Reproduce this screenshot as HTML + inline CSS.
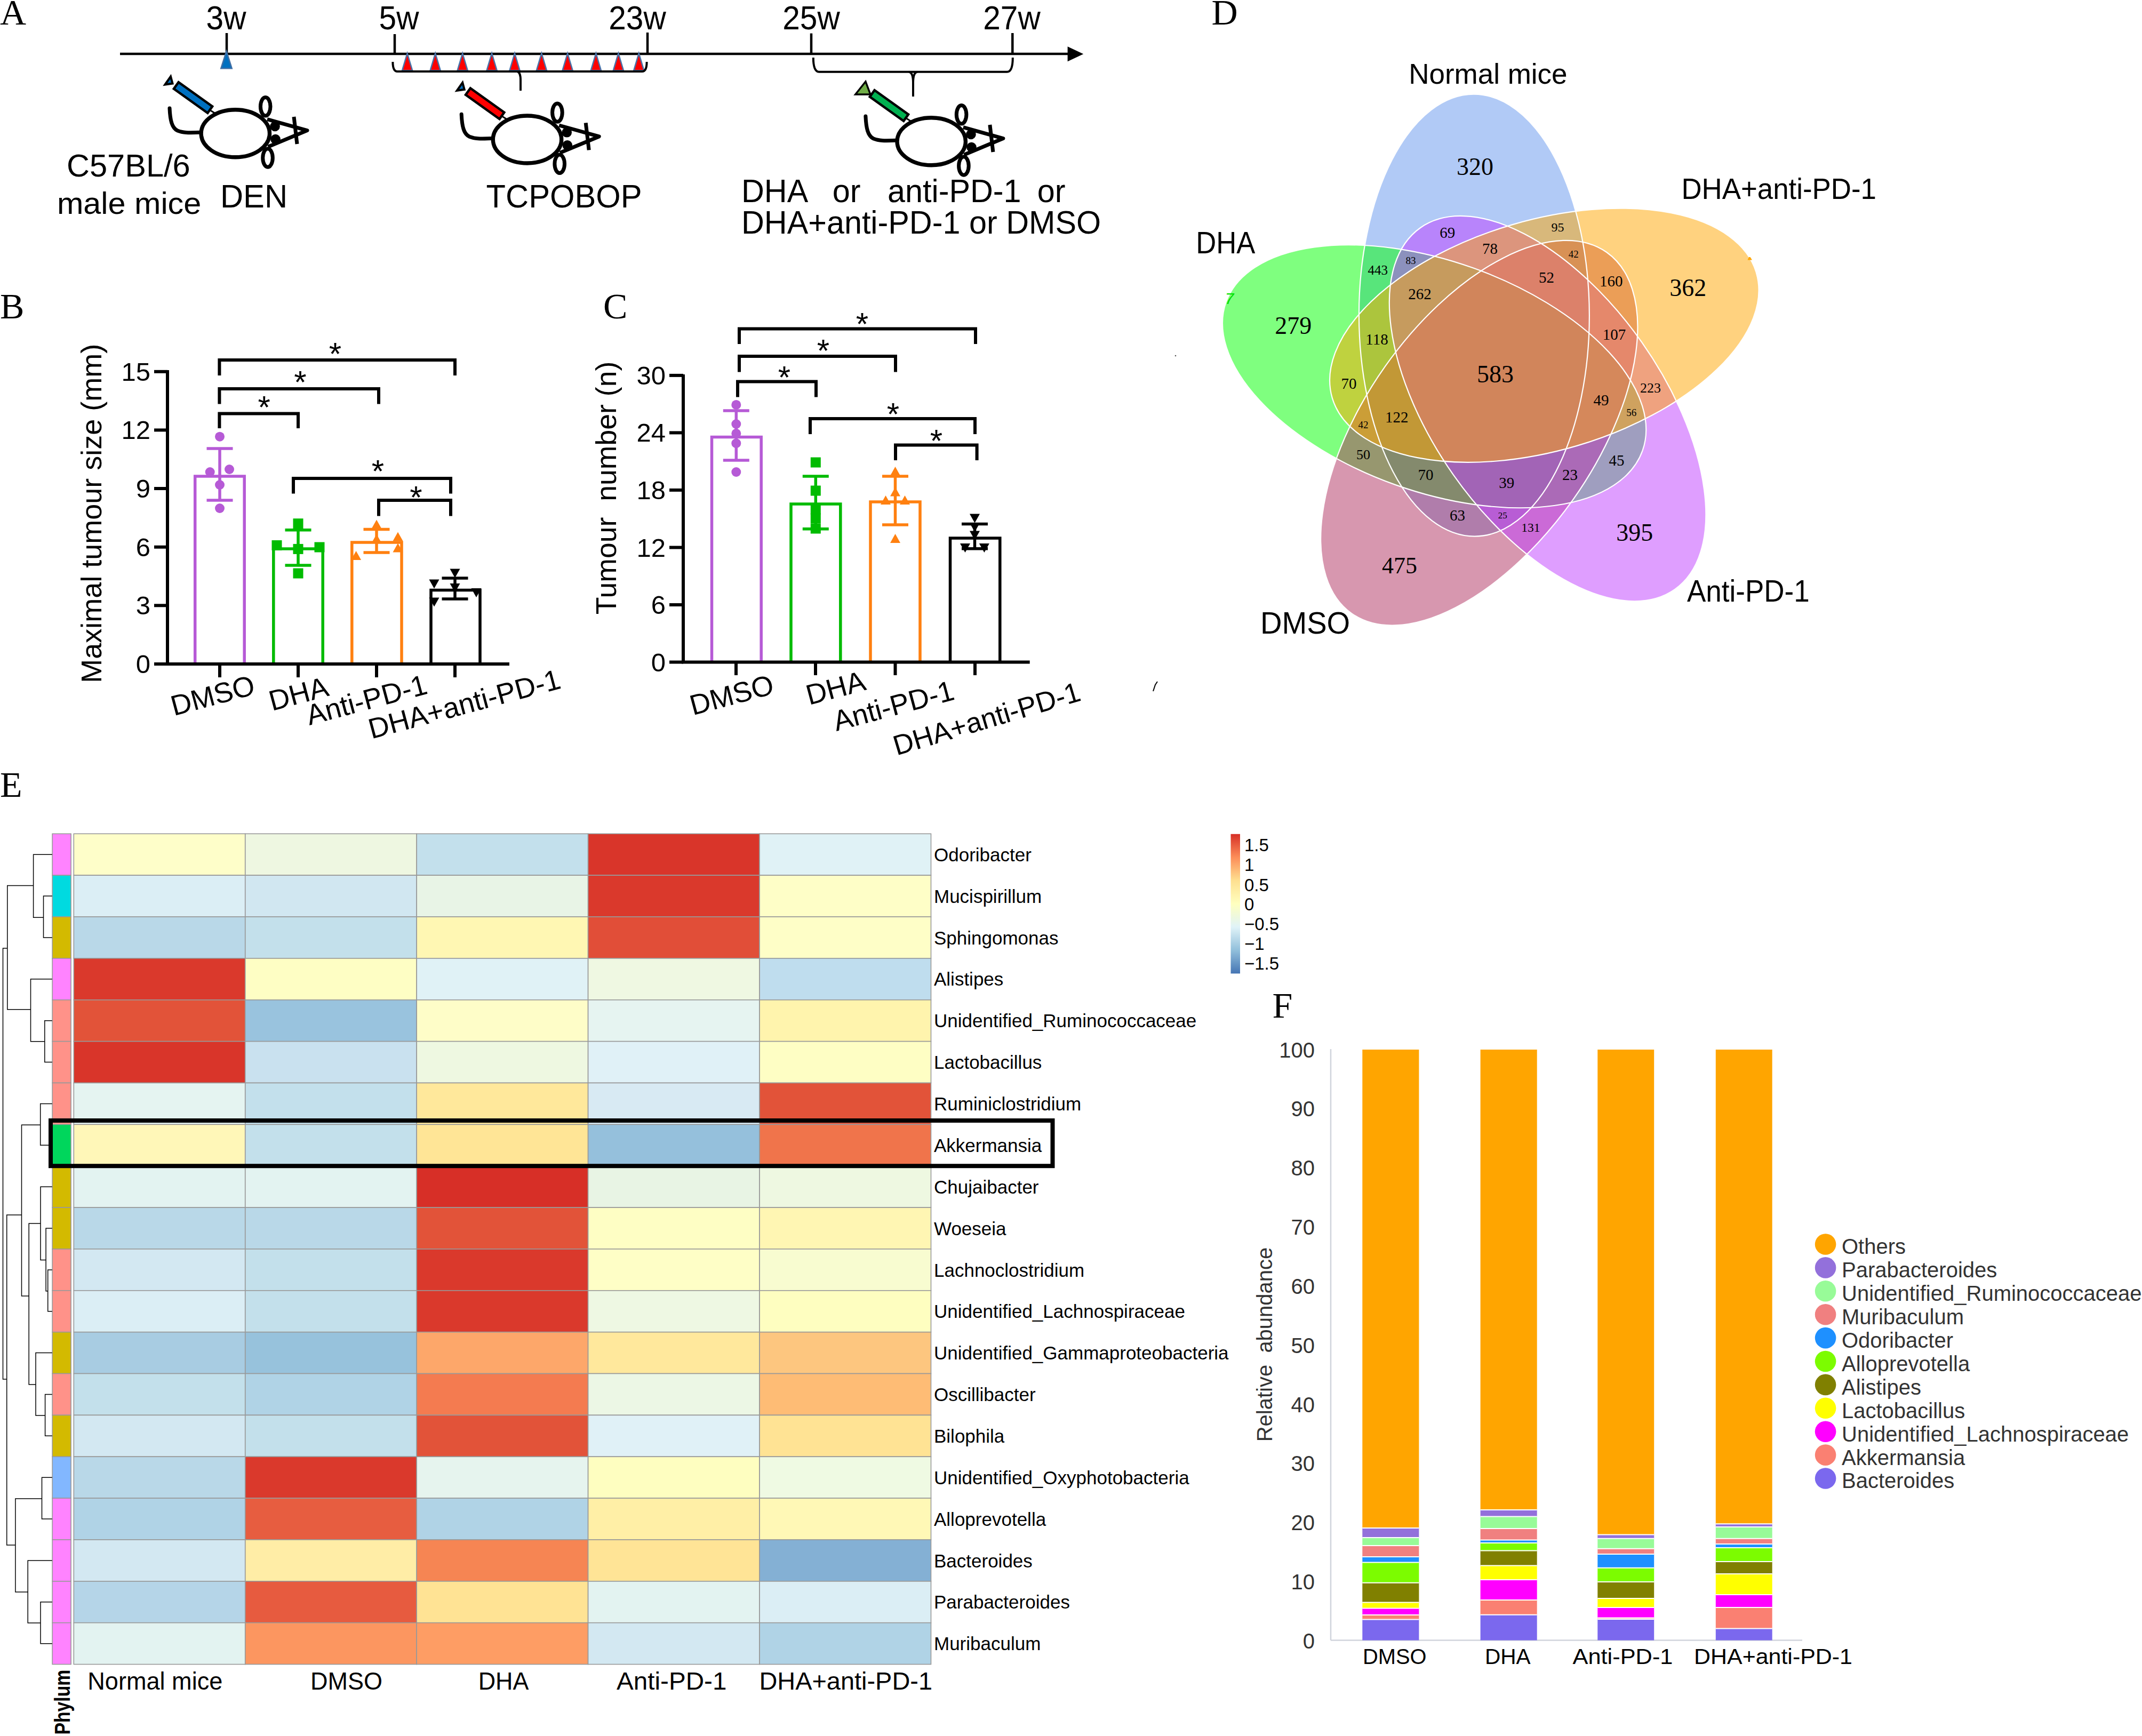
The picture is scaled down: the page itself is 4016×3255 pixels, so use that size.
<!DOCTYPE html>
<html><head><meta charset="utf-8"><title>Figure</title>
<style>html,body{margin:0;padding:0;background:#fff;} svg{display:block;}</style></head>
<body><svg width="4016" height="3255" viewBox="0 0 4016 3255">
<rect width="4016" height="3255" fill="#fff"/>
<text x="0" y="45.9" font-family="Liberation Serif, serif" font-size="68">A</text>
<line x1="225" y1="101" x2="2004" y2="101" stroke="#000" stroke-width="4.5"/>
<polygon points="2001.6,87.2 2031.3,101.2 2001.6,115.2" fill="#000"/>
<line x1="425" y1="62" x2="425" y2="101" stroke="#000" stroke-width="4.5"/>
<line x1="740" y1="64" x2="740" y2="101" stroke="#000" stroke-width="4.5"/>
<line x1="1214" y1="61" x2="1214" y2="101" stroke="#000" stroke-width="4.5"/>
<line x1="1521" y1="62.6" x2="1521" y2="101" stroke="#000" stroke-width="4.5"/>
<line x1="1898.3" y1="62" x2="1898.3" y2="101" stroke="#000" stroke-width="4.5"/>
<text transform="translate(424,54.7) scale(1.01,1.07)" font-family="Liberation Sans, sans-serif" font-size="58" text-anchor="middle">3w</text>
<text transform="translate(748,54.7) scale(1.01,1.07)" font-family="Liberation Sans, sans-serif" font-size="58" text-anchor="middle">5w</text>
<text transform="translate(1195,54.7) scale(1.01,1.07)" font-family="Liberation Sans, sans-serif" font-size="58" text-anchor="middle">23w</text>
<text transform="translate(1521,54.7) scale(1.01,1.07)" font-family="Liberation Sans, sans-serif" font-size="58" text-anchor="middle">25w</text>
<text transform="translate(1897,54.7) scale(1.01,1.07)" font-family="Liberation Sans, sans-serif" font-size="58" text-anchor="middle">27w</text>
<polygon points="424.6,96 434.7,128.3 414.3,128.3" fill="#0070c0" stroke="#3f6fa6" stroke-width="2.5" stroke-linejoin="miter"/>
<polygon points="763.6,100 773.2,132.3 754.0,132.3" fill="#ff0000" stroke="#4a72a8" stroke-width="2.5"/>
<polygon points="816.2,100 825.8000000000001,132.3 806.6,132.3" fill="#ff0000" stroke="#4a72a8" stroke-width="2.5"/>
<polygon points="867.2,100 876.8000000000001,132.3 857.6,132.3" fill="#ff0000" stroke="#4a72a8" stroke-width="2.5"/>
<polygon points="922.1,100 931.7,132.3 912.5,132.3" fill="#ff0000" stroke="#4a72a8" stroke-width="2.5"/>
<polygon points="965,100 974.6,132.3 955.4,132.3" fill="#ff0000" stroke="#4a72a8" stroke-width="2.5"/>
<polygon points="1015.4,100 1025.0,132.3 1005.8,132.3" fill="#ff0000" stroke="#4a72a8" stroke-width="2.5"/>
<polygon points="1064.1,100 1073.6999999999998,132.3 1054.5,132.3" fill="#ff0000" stroke="#4a72a8" stroke-width="2.5"/>
<polygon points="1117.4,100 1127.0,132.3 1107.8000000000002,132.3" fill="#ff0000" stroke="#4a72a8" stroke-width="2.5"/>
<polygon points="1159.4,100 1169.0,132.3 1149.8000000000002,132.3" fill="#ff0000" stroke="#4a72a8" stroke-width="2.5"/>
<polygon points="1197.8,100 1207.3999999999999,132.3 1188.2,132.3" fill="#ff0000" stroke="#4a72a8" stroke-width="2.5"/>
<path d="M736.4,116 Q736.4,134 745,134 L1204,134 Q1212.6,134 1212.6,116" fill="none" stroke="#000" stroke-width="4"/>
<path d="M970,134 Q976,136 976,150 L976,170" fill="none" stroke="#000" stroke-width="4"/>
<path d="M1524.8,108 Q1524.8,134.8 1536,134.8 L1888,134.8 Q1898.8,134.8 1898.8,108" fill="none" stroke="#000" stroke-width="4"/>
<path d="M1704,134.8 Q1712,136 1712,155 L1712,181 M1720,134.8 Q1712,136 1712,155" fill="none" stroke="#000" stroke-width="4"/>
<g transform="translate(0,0)"><path d="M318,203 C319,225 322,240 333,245 C345,250 360,248.5 374,248.3" fill="none" stroke="#000" stroke-width="7" stroke-linecap="round"/><ellipse cx="441.3" cy="250.2" rx="64.2" ry="44.5" fill="#fff" stroke="#000" stroke-width="7.4"/><ellipse cx="497.7" cy="199.8" rx="9.3" ry="17.2" fill="none" stroke="#000" stroke-width="7"/><ellipse cx="502" cy="296" rx="9.3" ry="17.2" fill="none" stroke="#000" stroke-width="7"/><path d="M501,223.7 L576,244.6 L502.6,275.2" fill="none" stroke="#000" stroke-width="7" stroke-linejoin="round"/><line x1="551" y1="219" x2="557" y2="270" stroke="#000" stroke-width="7"/><circle cx="515.5" cy="237" r="9.3" fill="#000"/><circle cx="516.5" cy="261" r="9.3" fill="#000"/><line x1="393" y1="206" x2="404" y2="213" stroke="#000" stroke-width="3"/><g transform="translate(362,183) rotate(35.6)"><rect x="-39" y="-7.6" width="78" height="15.2" fill="#0070c0" stroke="#000" stroke-width="4.5"/></g><polygon points="309.5,158.5 320,143.5 323.5,156.5" fill="#0070c0" stroke="#000" stroke-width="4"/></g>
<g transform="translate(547.2,11.3)"><path d="M318,203 C319,225 322,240 333,245 C345,250 360,248.5 374,248.3" fill="none" stroke="#000" stroke-width="7" stroke-linecap="round"/><ellipse cx="441.3" cy="250.2" rx="64.2" ry="44.5" fill="#fff" stroke="#000" stroke-width="7.4"/><ellipse cx="497.7" cy="199.8" rx="9.3" ry="17.2" fill="none" stroke="#000" stroke-width="7"/><ellipse cx="502" cy="296" rx="9.3" ry="17.2" fill="none" stroke="#000" stroke-width="7"/><path d="M501,223.7 L576,244.6 L502.6,275.2" fill="none" stroke="#000" stroke-width="7" stroke-linejoin="round"/><line x1="551" y1="219" x2="557" y2="270" stroke="#000" stroke-width="7"/><circle cx="515.5" cy="237" r="9.3" fill="#000"/><circle cx="516.5" cy="261" r="9.3" fill="#000"/><line x1="393" y1="206" x2="404" y2="213" stroke="#000" stroke-width="3"/><g transform="translate(362,183) rotate(35.6)"><rect x="-39" y="-7.6" width="78" height="15.2" fill="#ff0000" stroke="#000" stroke-width="4.5"/></g><polygon points="309.5,158.5 320,143.5 323.5,156.5" fill="#0070c0" stroke="#000" stroke-width="4"/></g>
<g transform="translate(1304.9,15)"><path d="M318,203 C319,225 322,240 333,245 C345,250 360,248.5 374,248.3" fill="none" stroke="#000" stroke-width="7" stroke-linecap="round"/><ellipse cx="441.3" cy="250.2" rx="64.2" ry="44.5" fill="#fff" stroke="#000" stroke-width="7.4"/><ellipse cx="497.7" cy="199.8" rx="9.3" ry="17.2" fill="none" stroke="#000" stroke-width="7"/><ellipse cx="502" cy="296" rx="9.3" ry="17.2" fill="none" stroke="#000" stroke-width="7"/><path d="M501,223.7 L576,244.6 L502.6,275.2" fill="none" stroke="#000" stroke-width="7" stroke-linejoin="round"/><line x1="551" y1="219" x2="557" y2="270" stroke="#000" stroke-width="7"/><circle cx="515.5" cy="237" r="9.3" fill="#000"/><circle cx="516.5" cy="261" r="9.3" fill="#000"/><line x1="393" y1="206" x2="404" y2="213" stroke="#000" stroke-width="3"/><g transform="translate(362,183) rotate(35.6)"><rect x="-39" y="-7.6" width="78" height="15.2" fill="#00b050" stroke="#000" stroke-width="4.5"/></g><polygon points="298.9,162 318,138 327,162" fill="#70ad47" stroke="#000" stroke-width="3.5"/></g>
<text transform="translate(240.8,331) scale(1.027,1.034)" font-family="Liberation Sans, sans-serif" font-size="58" text-anchor="middle">C57BL/6</text>
<text transform="translate(242.1,400.5) scale(1.023,1.0)" font-family="Liberation Sans, sans-serif" font-size="58" text-anchor="middle">male mice</text>
<text transform="translate(476,389.2) scale(1.03,1.06)" font-family="Liberation Sans, sans-serif" font-size="58" text-anchor="middle">DEN</text>
<text transform="translate(1057.6,389.2) scale(1.03,1.06)" font-family="Liberation Sans, sans-serif" font-size="58" text-anchor="middle">TCPOBOP</text>
<text transform="translate(1390,378.8) scale(1.023,1.06)" font-family="Liberation Sans, sans-serif" font-size="58">DHA</text>
<text transform="translate(1560.7,378.8) scale(1.023,1.06)" font-family="Liberation Sans, sans-serif" font-size="58">or</text>
<text transform="translate(1664,378.8) scale(1.023,1.06)" font-family="Liberation Sans, sans-serif" font-size="58">anti-PD-1</text>
<text transform="translate(1944.7,378.8) scale(1.023,1.06)" font-family="Liberation Sans, sans-serif" font-size="58">or</text>
<text transform="translate(1390,437.6) scale(1.023,1.06)" font-family="Liberation Sans, sans-serif" font-size="58">DHA+anti-PD-1 or DMSO</text>
<text x="0" y="596.9" font-family="Liberation Serif, serif" font-size="68">B</text>
<path d="M365.7,1245 L365.7,893 L458.2,893 L458.2,1245" fill="none" stroke="#b65ad6" stroke-width="5.5"/>
<path d="M512.8,1245 L512.8,1029 L605.2,1029 L605.2,1245" fill="none" stroke="#00bb00" stroke-width="5.5"/>
<path d="M659.8,1245 L659.8,1017 L753,1017 L753,1245" fill="none" stroke="#ff8010" stroke-width="5.5"/>
<path d="M808,1245 L808,1106.5 L900,1106.5 L900,1245" fill="none" stroke="#000" stroke-width="5.5"/>
<line x1="412" y1="841" x2="412" y2="938" stroke="#b65ad6" stroke-width="5.5"/><line x1="387.5" y1="841" x2="436.5" y2="841" stroke="#b65ad6" stroke-width="5.5"/><line x1="387.5" y1="938" x2="436.5" y2="938" stroke="#b65ad6" stroke-width="5.5"/>
<line x1="559" y1="993.7" x2="559" y2="1060" stroke="#00bb00" stroke-width="5.5"/><line x1="534.5" y1="993.7" x2="583.5" y2="993.7" stroke="#00bb00" stroke-width="5.5"/><line x1="534.5" y1="1060" x2="583.5" y2="1060" stroke="#00bb00" stroke-width="5.5"/>
<line x1="706" y1="992.6" x2="706" y2="1036" stroke="#ff8010" stroke-width="5.5"/><line x1="681.5" y1="992.6" x2="730.5" y2="992.6" stroke="#ff8010" stroke-width="5.5"/><line x1="681.5" y1="1036" x2="730.5" y2="1036" stroke="#ff8010" stroke-width="5.5"/>
<line x1="853" y1="1084" x2="853" y2="1123" stroke="#000" stroke-width="5.5"/><line x1="828.5" y1="1084" x2="877.5" y2="1084" stroke="#000" stroke-width="5.5"/><line x1="828.5" y1="1123" x2="877.5" y2="1123" stroke="#000" stroke-width="5.5"/>
<circle cx="412" cy="818.7" r="9" fill="#b65ad6"/>
<circle cx="393.7" cy="885" r="9" fill="#b65ad6"/>
<circle cx="430" cy="880" r="9" fill="#b65ad6"/>
<circle cx="412" cy="909" r="9" fill="#b65ad6"/>
<circle cx="412" cy="953" r="9" fill="#b65ad6"/>
<rect x="549.5" y="972.2" width="19" height="19" fill="#00bb00"/>
<rect x="509.5" y="1013.0" width="19" height="19" fill="#00bb00"/>
<rect x="549.5" y="1019.9000000000001" width="19" height="19" fill="#00bb00"/>
<rect x="589.5" y="1016.5" width="19" height="19" fill="#00bb00"/>
<rect x="549.5" y="1065.5" width="19" height="19" fill="#00bb00"/>
<polygon points="706,974.5 715.5,991.5 696.5,991.5" fill="#ff8010"/>
<polygon points="746,997.5 755.5,1014.5 736.5,1014.5" fill="#ff8010"/>
<polygon points="706,1001.5 715.5,1018.5 696.5,1018.5" fill="#ff8010"/>
<polygon points="746,1018.5 755.5,1035.5 736.5,1035.5" fill="#ff8010"/>
<polygon points="667.6,1033.0 677.1,1050.0 658.1,1050.0" fill="#ff8010"/>
<polygon points="853,1083.5 862.5,1066.5 843.5,1066.5" fill="#000"/>
<polygon points="814,1103.5 823.5,1086.5 804.5,1086.5" fill="#000"/>
<polygon points="853,1111.0 862.5,1094.0 843.5,1094.0" fill="#000"/>
<polygon points="893,1120.0 902.5,1103.0 883.5,1103.0" fill="#000"/>
<polygon points="814,1137.5 823.5,1120.5 804.5,1120.5" fill="#000"/>
<path d="M314,694 L314,1245 L955,1245" fill="none" stroke="#000" stroke-width="6"/>
<line x1="289" y1="1245.0" x2="314" y2="1245.0" stroke="#000" stroke-width="6"/>
<text x="282" y="1262.0" font-family="Liberation Sans, sans-serif" font-size="49" text-anchor="end">0</text>
<line x1="289" y1="1135.3" x2="314" y2="1135.3" stroke="#000" stroke-width="6"/>
<text x="282" y="1152.3" font-family="Liberation Sans, sans-serif" font-size="49" text-anchor="end">3</text>
<line x1="289" y1="1025.7" x2="314" y2="1025.7" stroke="#000" stroke-width="6"/>
<text x="282" y="1042.7" font-family="Liberation Sans, sans-serif" font-size="49" text-anchor="end">6</text>
<line x1="289" y1="916.0" x2="314" y2="916.0" stroke="#000" stroke-width="6"/>
<text x="282" y="933.0" font-family="Liberation Sans, sans-serif" font-size="49" text-anchor="end">9</text>
<line x1="289" y1="806.4" x2="314" y2="806.4" stroke="#000" stroke-width="6"/>
<text x="282" y="823.4" font-family="Liberation Sans, sans-serif" font-size="49" text-anchor="end">12</text>
<line x1="289" y1="696.8" x2="314" y2="696.8" stroke="#000" stroke-width="6"/>
<text x="282" y="713.8" font-family="Liberation Sans, sans-serif" font-size="49" text-anchor="end">15</text>
<line x1="412" y1="1245" x2="412" y2="1270" stroke="#000" stroke-width="6"/>
<line x1="559" y1="1245" x2="559" y2="1270" stroke="#000" stroke-width="6"/>
<line x1="706" y1="1245" x2="706" y2="1270" stroke="#000" stroke-width="6"/>
<line x1="853" y1="1245" x2="853" y2="1270" stroke="#000" stroke-width="6"/>
<text transform="translate(189.6,962.8) rotate(-90)" font-family="Liberation Sans, sans-serif" font-size="54" text-anchor="middle">Maximal tumour size (mm)</text>
<text transform="translate(481,1301) rotate(-15)" font-family="Liberation Sans, sans-serif" font-size="53.5" text-anchor="end">DMSO</text>
<text transform="translate(619,1304) rotate(-15)" font-family="Liberation Sans, sans-serif" font-size="53.5" text-anchor="end">DHA</text>
<text transform="translate(804,1300) rotate(-15)" font-family="Liberation Sans, sans-serif" font-size="53.5" text-anchor="end">Anti-PD-1</text>
<text transform="translate(1054,1290) rotate(-15)" font-family="Liberation Sans, sans-serif" font-size="53.5" text-anchor="end">DHA+anti-PD-1</text>
<path d="M411.4,803 L411.4,775.6 L559,775.6 L559,803" fill="none" stroke="#000" stroke-width="6" stroke-linejoin="miter"/>
<text x="495.3" y="784.0" font-family="Liberation Sans, sans-serif" font-size="60" text-anchor="middle">*</text>
<path d="M411.4,757.6 L411.4,729 L710,729 L710,757.6" fill="none" stroke="#000" stroke-width="6" stroke-linejoin="miter"/>
<text x="563" y="737.4" font-family="Liberation Sans, sans-serif" font-size="60" text-anchor="middle">*</text>
<path d="M411.4,704 L411.4,675 L853,675 L853,704" fill="none" stroke="#000" stroke-width="6" stroke-linejoin="miter"/>
<text x="628.5" y="684.4" font-family="Liberation Sans, sans-serif" font-size="60" text-anchor="middle">*</text>
<path d="M550,925.6 L550,897 L845,897 L845,925.6" fill="none" stroke="#000" stroke-width="6" stroke-linejoin="miter"/>
<text x="708.5" y="904.4" font-family="Liberation Sans, sans-serif" font-size="60" text-anchor="middle">*</text>
<path d="M710,967.6 L710,938 L845,938 L845,967.6" fill="none" stroke="#000" stroke-width="6" stroke-linejoin="miter"/>
<text x="780" y="953.2" font-family="Liberation Sans, sans-serif" font-size="60" text-anchor="middle">*</text>
<text x="1131" y="596.9" font-family="Liberation Serif, serif" font-size="68">C</text>
<path d="M1334.5,1241.5 L1334.5,819.4 L1427.2,819.4 L1427.2,1241.5" fill="none" stroke="#b65ad6" stroke-width="5.5"/>
<path d="M1483,1241.5 L1483,945 L1575.8,945 L1575.8,1241.5" fill="none" stroke="#00bb00" stroke-width="5.5"/>
<path d="M1632,1241.5 L1632,941 L1725,941 L1725,1241.5" fill="none" stroke="#ff8010" stroke-width="5.5"/>
<path d="M1781.5,1241.5 L1781.5,1009 L1874.8,1009 L1874.8,1241.5" fill="none" stroke="#000" stroke-width="5.5"/>
<line x1="1380.3" y1="770" x2="1380.3" y2="863" stroke="#b65ad6" stroke-width="5.5"/><line x1="1355.8" y1="770" x2="1404.8" y2="770" stroke="#b65ad6" stroke-width="5.5"/><line x1="1355.8" y1="863" x2="1404.8" y2="863" stroke="#b65ad6" stroke-width="5.5"/>
<line x1="1529.3" y1="893" x2="1529.3" y2="991.8" stroke="#00bb00" stroke-width="5.5"/><line x1="1504.8" y1="893" x2="1553.8" y2="893" stroke="#00bb00" stroke-width="5.5"/><line x1="1504.8" y1="991.8" x2="1553.8" y2="991.8" stroke="#00bb00" stroke-width="5.5"/>
<line x1="1678.5" y1="893" x2="1678.5" y2="984" stroke="#ff8010" stroke-width="5.5"/><line x1="1654.0" y1="893" x2="1703.0" y2="893" stroke="#ff8010" stroke-width="5.5"/><line x1="1654.0" y1="984" x2="1703.0" y2="984" stroke="#ff8010" stroke-width="5.5"/>
<line x1="1827.5" y1="982.5" x2="1827.5" y2="1028.7" stroke="#000" stroke-width="5.5"/><line x1="1803.0" y1="982.5" x2="1852.0" y2="982.5" stroke="#000" stroke-width="5.5"/><line x1="1803.0" y1="1028.7" x2="1852.0" y2="1028.7" stroke="#000" stroke-width="5.5"/>
<circle cx="1380.3" cy="758.9" r="9" fill="#b65ad6"/>
<circle cx="1380.3" cy="795" r="9" fill="#b65ad6"/>
<circle cx="1380.3" cy="812.8" r="9" fill="#b65ad6"/>
<circle cx="1380.3" cy="831.2" r="9" fill="#b65ad6"/>
<circle cx="1380.3" cy="885" r="9" fill="#b65ad6"/>
<rect x="1519.8" y="857.5" width="19" height="19" fill="#00bb00"/>
<rect x="1519.8" y="910.5" width="19" height="19" fill="#00bb00"/>
<rect x="1519.8" y="945.5" width="19" height="19" fill="#00bb00"/>
<rect x="1519.8" y="962.5" width="19" height="19" fill="#00bb00"/>
<rect x="1519.8" y="981.5" width="19" height="19" fill="#00bb00"/>
<polygon points="1678.5,875.0 1688.0,892.0 1669.0,892.0" fill="#ff8010"/>
<polygon points="1678.5,913.5 1688.0,930.5 1669.0,930.5" fill="#ff8010"/>
<polygon points="1660.5,929.1 1670.0,946.1 1651.0,946.1" fill="#ff8010"/>
<polygon points="1696.5,929.1 1706.0,946.1 1687.0,946.1" fill="#ff8010"/>
<polygon points="1678.5,1001.0 1688.0,1018.0 1669.0,1018.0" fill="#ff8010"/>
<polygon points="1827.5,980.5 1837.0,963.5 1818.0,963.5" fill="#000"/>
<polygon points="1827.5,997.5 1837.0,980.5 1818.0,980.5" fill="#000"/>
<polygon points="1827.5,1012.5 1837.0,995.5 1818.0,995.5" fill="#000"/>
<polygon points="1809.5,1036.0 1819.0,1019.0 1800.0,1019.0" fill="#000"/>
<polygon points="1845.4,1036.0 1854.9,1019.0 1835.9,1019.0" fill="#000"/>
<path d="M1281,702 L1281,1241.5 L1930.7,1241.5" fill="none" stroke="#000" stroke-width="6"/>
<line x1="1255" y1="1241.5" x2="1281" y2="1241.5" stroke="#000" stroke-width="6"/>
<text x="1248" y="1258.5" font-family="Liberation Sans, sans-serif" font-size="49" text-anchor="end">0</text>
<line x1="1255" y1="1134.0" x2="1281" y2="1134.0" stroke="#000" stroke-width="6"/>
<text x="1248" y="1151.0" font-family="Liberation Sans, sans-serif" font-size="49" text-anchor="end">6</text>
<line x1="1255" y1="1026.5" x2="1281" y2="1026.5" stroke="#000" stroke-width="6"/>
<text x="1248" y="1043.5" font-family="Liberation Sans, sans-serif" font-size="49" text-anchor="end">12</text>
<line x1="1255" y1="918.9" x2="1281" y2="918.9" stroke="#000" stroke-width="6"/>
<text x="1248" y="935.9" font-family="Liberation Sans, sans-serif" font-size="49" text-anchor="end">18</text>
<line x1="1255" y1="811.4" x2="1281" y2="811.4" stroke="#000" stroke-width="6"/>
<text x="1248" y="828.4" font-family="Liberation Sans, sans-serif" font-size="49" text-anchor="end">24</text>
<line x1="1255" y1="703.9" x2="1281" y2="703.9" stroke="#000" stroke-width="6"/>
<text x="1248" y="720.9" font-family="Liberation Sans, sans-serif" font-size="49" text-anchor="end">30</text>
<line x1="1380" y1="1241.5" x2="1380" y2="1266" stroke="#000" stroke-width="6"/>
<line x1="1529" y1="1241.5" x2="1529" y2="1266" stroke="#000" stroke-width="6"/>
<line x1="1678.5" y1="1241.5" x2="1678.5" y2="1266" stroke="#000" stroke-width="6"/>
<line x1="1828" y1="1241.5" x2="1828" y2="1266" stroke="#000" stroke-width="6"/>
<text transform="translate(1155,915) rotate(-90)" font-family="Liberation Sans, sans-serif" font-size="53.6" text-anchor="middle" style="white-space:pre">Tumour  number (n)</text>
<text transform="translate(1454,1300) rotate(-15)" font-family="Liberation Sans, sans-serif" font-size="53.5" text-anchor="end">DMSO</text>
<text transform="translate(1626,1293) rotate(-15)" font-family="Liberation Sans, sans-serif" font-size="53.5" text-anchor="end">DHA</text>
<text transform="translate(1792,1311) rotate(-15)" font-family="Liberation Sans, sans-serif" font-size="53.5" text-anchor="end">Anti-PD-1</text>
<text transform="translate(2029,1313) rotate(-16.6)" font-family="Liberation Sans, sans-serif" font-size="52.5" text-anchor="end">DHA+anti-PD-1</text>
<path d="M1383,744.4 L1383,715.6 L1530,715.6 L1530,744.4" fill="none" stroke="#000" stroke-width="6" stroke-linejoin="miter"/>
<text x="1470.5" y="728.4" font-family="Liberation Sans, sans-serif" font-size="60" text-anchor="middle">*</text>
<path d="M1386,697.6 L1386,668 L1679,668 L1679,697.6" fill="none" stroke="#000" stroke-width="6" stroke-linejoin="miter"/>
<text x="1543.5" y="678.4" font-family="Liberation Sans, sans-serif" font-size="60" text-anchor="middle">*</text>
<path d="M1386,645 L1386,616.6 L1829,616.6 L1829,645" fill="none" stroke="#000" stroke-width="6" stroke-linejoin="miter"/>
<text x="1616.5" y="628.4" font-family="Liberation Sans, sans-serif" font-size="60" text-anchor="middle">*</text>
<path d="M1519,814 L1519,785 L1828,785 L1828,814" fill="none" stroke="#000" stroke-width="6" stroke-linejoin="miter"/>
<text x="1674.5" y="797.0" font-family="Liberation Sans, sans-serif" font-size="60" text-anchor="middle">*</text>
<path d="M1679,863 L1679,834.6 L1831.6,834.6 L1831.6,863" fill="none" stroke="#000" stroke-width="6" stroke-linejoin="miter"/>
<text x="1755.5" y="847.0" font-family="Liberation Sans, sans-serif" font-size="60" text-anchor="middle">*</text>
<path d="M2162,1296 L2166,1284 L2170,1278" fill="none" stroke="#000" stroke-width="2"/>
<text x="2271.5" y="45.9" font-family="Liberation Serif, serif" font-size="68">D</text>
<ellipse cx="0" cy="0" rx="215.97" ry="414.52" transform="translate(2763.9,591.1) rotate(-0.12)" fill="#6495ed" fill-opacity="0.5"/>
<ellipse cx="0" cy="0" rx="215.97" ry="414.52" transform="translate(2689.1,705.7) rotate(109.63)" fill="#00ff00" fill-opacity="0.5"/>
<ellipse cx="0" cy="0" rx="215.97" ry="414.52" transform="translate(2773.3,811.7) rotate(35.21)" fill="#b03060" fill-opacity="0.5"/>
<ellipse cx="0" cy="0" rx="215.97" ry="414.52" transform="translate(2901.6,766.1) rotate(-35.11)" fill="#bf3eff" fill-opacity="0.5"/>
<ellipse cx="0" cy="0" rx="215.97" ry="414.52" transform="translate(2895.3,628.7) rotate(-106.45)" fill="#ffa500" fill-opacity="0.5"/>
<ellipse cx="0" cy="0" rx="215.97" ry="414.52" transform="translate(2763.9,591.1) rotate(-0.12)" fill="none" stroke="#fff" stroke-width="2.2"/>
<ellipse cx="0" cy="0" rx="215.97" ry="414.52" transform="translate(2689.1,705.7) rotate(109.63)" fill="none" stroke="#fff" stroke-width="2.2"/>
<ellipse cx="0" cy="0" rx="215.97" ry="414.52" transform="translate(2773.3,811.7) rotate(35.21)" fill="none" stroke="#fff" stroke-width="2.2"/>
<ellipse cx="0" cy="0" rx="215.97" ry="414.52" transform="translate(2901.6,766.1) rotate(-35.11)" fill="none" stroke="#fff" stroke-width="2.2"/>
<ellipse cx="0" cy="0" rx="215.97" ry="414.52" transform="translate(2895.3,628.7) rotate(-106.45)" fill="none" stroke="#fff" stroke-width="2.2"/>
<text transform="translate(2789.85,157.1) scale(1.0,1.02)" font-family="Liberation Sans, sans-serif" font-size="53" text-anchor="middle">Normal mice</text>
<text transform="translate(3335.2,372.8) scale(0.997,1.04)" font-family="Liberation Sans, sans-serif" font-size="53" text-anchor="middle">DHA+anti-PD-1</text>
<text transform="translate(2297.75,475) scale(0.993,1.085)" font-family="Liberation Sans, sans-serif" font-size="53" text-anchor="middle">DHA</text>
<text transform="translate(3277.8,1127.9) scale(1.0,1.067)" font-family="Liberation Sans, sans-serif" font-size="53" text-anchor="middle">Anti-PD-1</text>
<text transform="translate(2447.1,1187.7) scale(1.059,1.073)" font-family="Liberation Sans, sans-serif" font-size="53" text-anchor="middle">DMSO</text>
<text x="2765.5" y="327.5" font-family="Liberation Serif, serif" font-size="46" text-anchor="middle">320</text>
<text x="2713.8" y="445.6" font-family="Liberation Serif, serif" font-size="29" text-anchor="middle">69</text>
<text x="2920.6" y="433.7" font-family="Liberation Serif, serif" font-size="24" text-anchor="middle">95</text>
<text x="2793.5" y="476.1" font-family="Liberation Serif, serif" font-size="29" text-anchor="middle">78</text>
<text x="2950.3" y="482.9" font-family="Liberation Serif, serif" font-size="19" text-anchor="middle">42</text>
<text x="2645" y="494.7" font-family="Liberation Serif, serif" font-size="19" text-anchor="middle">83</text>
<text x="2583.2" y="515.1" font-family="Liberation Serif, serif" font-size="25" text-anchor="middle">443</text>
<text x="2899.5" y="530.4" font-family="Liberation Serif, serif" font-size="29" text-anchor="middle">52</text>
<text x="3020.7" y="537.1" font-family="Liberation Serif, serif" font-size="29" text-anchor="middle">160</text>
<text x="3164.8" y="554.7" font-family="Liberation Serif, serif" font-size="46" text-anchor="middle">362</text>
<text x="2662" y="560.8" font-family="Liberation Serif, serif" font-size="29" text-anchor="middle">262</text>
<text x="2424.7" y="625.9" font-family="Liberation Serif, serif" font-size="46" text-anchor="middle">279</text>
<text x="2581.5" y="645.7" font-family="Liberation Serif, serif" font-size="29" text-anchor="middle">118</text>
<text x="3026.6" y="637.2" font-family="Liberation Serif, serif" font-size="29" text-anchor="middle">107</text>
<text x="2803.6" y="716.5" font-family="Liberation Serif, serif" font-size="46" text-anchor="middle">583</text>
<text x="2529" y="728.8" font-family="Liberation Serif, serif" font-size="29" text-anchor="middle">70</text>
<text x="3094.5" y="736.2" font-family="Liberation Serif, serif" font-size="26" text-anchor="middle">223</text>
<text x="3002" y="760.1" font-family="Liberation Serif, serif" font-size="29" text-anchor="middle">49</text>
<text x="3058.8" y="779.6" font-family="Liberation Serif, serif" font-size="19" text-anchor="middle">56</text>
<text x="2556" y="803.4" font-family="Liberation Serif, serif" font-size="19" text-anchor="middle">42</text>
<text x="2618.8" y="791.5" font-family="Liberation Serif, serif" font-size="29" text-anchor="middle">122</text>
<text x="2556" y="860.8" font-family="Liberation Serif, serif" font-size="26" text-anchor="middle">50</text>
<text x="3030.9" y="872.8" font-family="Liberation Serif, serif" font-size="29" text-anchor="middle">45</text>
<text x="2673" y="900.0" font-family="Liberation Serif, serif" font-size="29" text-anchor="middle">70</text>
<text x="2943.5" y="900.0" font-family="Liberation Serif, serif" font-size="29" text-anchor="middle">23</text>
<text x="2824.8" y="915.3" font-family="Liberation Serif, serif" font-size="29" text-anchor="middle">39</text>
<text x="2732.4" y="976.3" font-family="Liberation Serif, serif" font-size="29" text-anchor="middle">63</text>
<text x="2817.2" y="972.2" font-family="Liberation Serif, serif" font-size="17" text-anchor="middle">25</text>
<text x="2869.8" y="997.3" font-family="Liberation Serif, serif" font-size="23.5" text-anchor="middle">131</text>
<text x="3064.8" y="1014.2" font-family="Liberation Serif, serif" font-size="46" text-anchor="middle">395</text>
<text x="2623.9" y="1074.7" font-family="Liberation Serif, serif" font-size="44" text-anchor="middle">475</text>
<text x="2305" y="570" font-family="Liberation Sans, sans-serif" font-size="30" fill="#00e000" text-anchor="middle" font-style="italic">7</text>
<circle cx="2204" cy="667" r="1.3" fill="#555"/>
<polygon points="3279,482 3281.5,482 3285,487.5 3276.5,487.5" fill="#ffa500"/>
<text x="0" y="1494" font-family="Liberation Serif, serif" font-size="68">E</text>
<rect x="138.3" y="1563.3" width="321.4" height="77.86" fill="#fefec9" stroke="#999" stroke-width="1.6"/>
<rect x="459.8" y="1563.3" width="321.4" height="77.86" fill="#eef7e1" stroke="#999" stroke-width="1.6"/>
<rect x="781.2" y="1563.3" width="321.4" height="77.86" fill="#c3e0ec" stroke="#999" stroke-width="1.6"/>
<rect x="1102.6" y="1563.3" width="321.4" height="77.86" fill="#d9352a" stroke="#999" stroke-width="1.6"/>
<rect x="1424.1" y="1563.3" width="321.4" height="77.86" fill="#e0f2f6" stroke="#999" stroke-width="1.6"/>
<rect x="138.3" y="1641.2" width="321.4" height="77.86" fill="#dbeef5" stroke="#999" stroke-width="1.6"/>
<rect x="459.8" y="1641.2" width="321.4" height="77.86" fill="#d1e7f1" stroke="#999" stroke-width="1.6"/>
<rect x="781.2" y="1641.2" width="321.4" height="77.86" fill="#e8f4e6" stroke="#999" stroke-width="1.6"/>
<rect x="1102.6" y="1641.2" width="321.4" height="77.86" fill="#da392c" stroke="#999" stroke-width="1.6"/>
<rect x="1424.1" y="1641.2" width="321.4" height="77.86" fill="#fefec7" stroke="#999" stroke-width="1.6"/>
<rect x="138.3" y="1719.0" width="321.4" height="77.86" fill="#b9d8e8" stroke="#999" stroke-width="1.6"/>
<rect x="459.8" y="1719.0" width="321.4" height="77.86" fill="#c3e0eb" stroke="#999" stroke-width="1.6"/>
<rect x="781.2" y="1719.0" width="321.4" height="77.86" fill="#fff7b3" stroke="#999" stroke-width="1.6"/>
<rect x="1102.6" y="1719.0" width="321.4" height="77.86" fill="#e14e38" stroke="#999" stroke-width="1.6"/>
<rect x="1424.1" y="1719.0" width="321.4" height="77.86" fill="#fefec7" stroke="#999" stroke-width="1.6"/>
<rect x="138.3" y="1796.9" width="321.4" height="77.86" fill="#da392c" stroke="#999" stroke-width="1.6"/>
<rect x="459.8" y="1796.9" width="321.4" height="77.86" fill="#fefec4" stroke="#999" stroke-width="1.6"/>
<rect x="781.2" y="1796.9" width="321.4" height="77.86" fill="#e0f2f6" stroke="#999" stroke-width="1.6"/>
<rect x="1102.6" y="1796.9" width="321.4" height="77.86" fill="#eff8e2" stroke="#999" stroke-width="1.6"/>
<rect x="1424.1" y="1796.9" width="321.4" height="77.86" fill="#bfddee" stroke="#999" stroke-width="1.6"/>
<rect x="138.3" y="1874.8" width="321.4" height="77.86" fill="#e25339" stroke="#999" stroke-width="1.6"/>
<rect x="459.8" y="1874.8" width="321.4" height="77.86" fill="#99c3de" stroke="#999" stroke-width="1.6"/>
<rect x="781.2" y="1874.8" width="321.4" height="77.86" fill="#fefdc8" stroke="#999" stroke-width="1.6"/>
<rect x="1102.6" y="1874.8" width="321.4" height="77.86" fill="#e6f4f1" stroke="#999" stroke-width="1.6"/>
<rect x="1424.1" y="1874.8" width="321.4" height="77.86" fill="#fff4ad" stroke="#999" stroke-width="1.6"/>
<rect x="138.3" y="1952.6" width="321.4" height="77.86" fill="#d9352a" stroke="#999" stroke-width="1.6"/>
<rect x="459.8" y="1952.6" width="321.4" height="77.86" fill="#c9e1ef" stroke="#999" stroke-width="1.6"/>
<rect x="781.2" y="1952.6" width="321.4" height="77.86" fill="#eef8e1" stroke="#999" stroke-width="1.6"/>
<rect x="1102.6" y="1952.6" width="321.4" height="77.86" fill="#e0f1f7" stroke="#999" stroke-width="1.6"/>
<rect x="1424.1" y="1952.6" width="321.4" height="77.86" fill="#fefec4" stroke="#999" stroke-width="1.6"/>
<rect x="138.3" y="2030.5" width="321.4" height="77.86" fill="#e5f4f1" stroke="#999" stroke-width="1.6"/>
<rect x="459.8" y="2030.5" width="321.4" height="77.86" fill="#c3e0ec" stroke="#999" stroke-width="1.6"/>
<rect x="781.2" y="2030.5" width="321.4" height="77.86" fill="#ffe89b" stroke="#999" stroke-width="1.6"/>
<rect x="1102.6" y="2030.5" width="321.4" height="77.86" fill="#d8eaf3" stroke="#999" stroke-width="1.6"/>
<rect x="1424.1" y="2030.5" width="321.4" height="77.86" fill="#e25339" stroke="#999" stroke-width="1.6"/>
<rect x="138.3" y="2108.4" width="321.4" height="77.86" fill="#fff7b8" stroke="#999" stroke-width="1.6"/>
<rect x="459.8" y="2108.4" width="321.4" height="77.86" fill="#c3e0eb" stroke="#999" stroke-width="1.6"/>
<rect x="781.2" y="2108.4" width="321.4" height="77.86" fill="#ffe596" stroke="#999" stroke-width="1.6"/>
<rect x="1102.6" y="2108.4" width="321.4" height="77.86" fill="#95c0dc" stroke="#999" stroke-width="1.6"/>
<rect x="1424.1" y="2108.4" width="321.4" height="77.86" fill="#f0744b" stroke="#999" stroke-width="1.6"/>
<rect x="138.3" y="2186.2" width="321.4" height="77.86" fill="#e3f3f1" stroke="#999" stroke-width="1.6"/>
<rect x="459.8" y="2186.2" width="321.4" height="77.86" fill="#e3f3f1" stroke="#999" stroke-width="1.6"/>
<rect x="781.2" y="2186.2" width="321.4" height="77.86" fill="#d72f27" stroke="#999" stroke-width="1.6"/>
<rect x="1102.6" y="2186.2" width="321.4" height="77.86" fill="#e8f4e4" stroke="#999" stroke-width="1.6"/>
<rect x="1424.1" y="2186.2" width="321.4" height="77.86" fill="#eef8e1" stroke="#999" stroke-width="1.6"/>
<rect x="138.3" y="2264.1" width="321.4" height="77.86" fill="#b9d8e8" stroke="#999" stroke-width="1.6"/>
<rect x="459.8" y="2264.1" width="321.4" height="77.86" fill="#b9d8e8" stroke="#999" stroke-width="1.6"/>
<rect x="781.2" y="2264.1" width="321.4" height="77.86" fill="#e25339" stroke="#999" stroke-width="1.6"/>
<rect x="1102.6" y="2264.1" width="321.4" height="77.86" fill="#fefec4" stroke="#999" stroke-width="1.6"/>
<rect x="1424.1" y="2264.1" width="321.4" height="77.86" fill="#fff6b3" stroke="#999" stroke-width="1.6"/>
<rect x="138.3" y="2341.9" width="321.4" height="77.86" fill="#d3e8f2" stroke="#999" stroke-width="1.6"/>
<rect x="459.8" y="2341.9" width="321.4" height="77.86" fill="#c3e0eb" stroke="#999" stroke-width="1.6"/>
<rect x="781.2" y="2341.9" width="321.4" height="77.86" fill="#da392c" stroke="#999" stroke-width="1.6"/>
<rect x="1102.6" y="2341.9" width="321.4" height="77.86" fill="#fefec6" stroke="#999" stroke-width="1.6"/>
<rect x="1424.1" y="2341.9" width="321.4" height="77.86" fill="#f8fcd0" stroke="#999" stroke-width="1.6"/>
<rect x="138.3" y="2419.8" width="321.4" height="77.86" fill="#dbeef5" stroke="#999" stroke-width="1.6"/>
<rect x="459.8" y="2419.8" width="321.4" height="77.86" fill="#c3e0eb" stroke="#999" stroke-width="1.6"/>
<rect x="781.2" y="2419.8" width="321.4" height="77.86" fill="#da392c" stroke="#999" stroke-width="1.6"/>
<rect x="1102.6" y="2419.8" width="321.4" height="77.86" fill="#eef8e3" stroke="#999" stroke-width="1.6"/>
<rect x="1424.1" y="2419.8" width="321.4" height="77.86" fill="#fefec0" stroke="#999" stroke-width="1.6"/>
<rect x="138.3" y="2497.7" width="321.4" height="77.86" fill="#a8cce2" stroke="#999" stroke-width="1.6"/>
<rect x="459.8" y="2497.7" width="321.4" height="77.86" fill="#97c2dc" stroke="#999" stroke-width="1.6"/>
<rect x="781.2" y="2497.7" width="321.4" height="77.86" fill="#fda76a" stroke="#999" stroke-width="1.6"/>
<rect x="1102.6" y="2497.7" width="321.4" height="77.86" fill="#ffe89c" stroke="#999" stroke-width="1.6"/>
<rect x="1424.1" y="2497.7" width="321.4" height="77.86" fill="#fdc67f" stroke="#999" stroke-width="1.6"/>
<rect x="138.3" y="2575.5" width="321.4" height="77.86" fill="#c3e0eb" stroke="#999" stroke-width="1.6"/>
<rect x="459.8" y="2575.5" width="321.4" height="77.86" fill="#b0d3e6" stroke="#999" stroke-width="1.6"/>
<rect x="781.2" y="2575.5" width="321.4" height="77.86" fill="#f47b50" stroke="#999" stroke-width="1.6"/>
<rect x="1102.6" y="2575.5" width="321.4" height="77.86" fill="#ecf7e5" stroke="#999" stroke-width="1.6"/>
<rect x="1424.1" y="2575.5" width="321.4" height="77.86" fill="#febc75" stroke="#999" stroke-width="1.6"/>
<rect x="138.3" y="2653.4" width="321.4" height="77.86" fill="#d3e8f2" stroke="#999" stroke-width="1.6"/>
<rect x="459.8" y="2653.4" width="321.4" height="77.86" fill="#c3e0eb" stroke="#999" stroke-width="1.6"/>
<rect x="781.2" y="2653.4" width="321.4" height="77.86" fill="#e25339" stroke="#999" stroke-width="1.6"/>
<rect x="1102.6" y="2653.4" width="321.4" height="77.86" fill="#e0f1f7" stroke="#999" stroke-width="1.6"/>
<rect x="1424.1" y="2653.4" width="321.4" height="77.86" fill="#ffe394" stroke="#999" stroke-width="1.6"/>
<rect x="138.3" y="2731.3" width="321.4" height="77.86" fill="#b9d8e8" stroke="#999" stroke-width="1.6"/>
<rect x="459.8" y="2731.3" width="321.4" height="77.86" fill="#da392c" stroke="#999" stroke-width="1.6"/>
<rect x="781.2" y="2731.3" width="321.4" height="77.86" fill="#e6f4ee" stroke="#999" stroke-width="1.6"/>
<rect x="1102.6" y="2731.3" width="321.4" height="77.86" fill="#fefec0" stroke="#999" stroke-width="1.6"/>
<rect x="1424.1" y="2731.3" width="321.4" height="77.86" fill="#effae3" stroke="#999" stroke-width="1.6"/>
<rect x="138.3" y="2809.1" width="321.4" height="77.86" fill="#b0d3e6" stroke="#999" stroke-width="1.6"/>
<rect x="459.8" y="2809.1" width="321.4" height="77.86" fill="#e75d40" stroke="#999" stroke-width="1.6"/>
<rect x="781.2" y="2809.1" width="321.4" height="77.86" fill="#b0d3e6" stroke="#999" stroke-width="1.6"/>
<rect x="1102.6" y="2809.1" width="321.4" height="77.86" fill="#ffefa6" stroke="#999" stroke-width="1.6"/>
<rect x="1424.1" y="2809.1" width="321.4" height="77.86" fill="#fff8b6" stroke="#999" stroke-width="1.6"/>
<rect x="138.3" y="2887.0" width="321.4" height="77.86" fill="#d3e8f2" stroke="#999" stroke-width="1.6"/>
<rect x="459.8" y="2887.0" width="321.4" height="77.86" fill="#ffeda6" stroke="#999" stroke-width="1.6"/>
<rect x="781.2" y="2887.0" width="321.4" height="77.86" fill="#f68553" stroke="#999" stroke-width="1.6"/>
<rect x="1102.6" y="2887.0" width="321.4" height="77.86" fill="#ffe496" stroke="#999" stroke-width="1.6"/>
<rect x="1424.1" y="2887.0" width="321.4" height="77.86" fill="#84b0d4" stroke="#999" stroke-width="1.6"/>
<rect x="138.3" y="2964.9" width="321.4" height="77.86" fill="#b5d5e8" stroke="#999" stroke-width="1.6"/>
<rect x="459.8" y="2964.9" width="321.4" height="77.86" fill="#e75b3f" stroke="#999" stroke-width="1.6"/>
<rect x="781.2" y="2964.9" width="321.4" height="77.86" fill="#ffe394" stroke="#999" stroke-width="1.6"/>
<rect x="1102.6" y="2964.9" width="321.4" height="77.86" fill="#e3f3f1" stroke="#999" stroke-width="1.6"/>
<rect x="1424.1" y="2964.9" width="321.4" height="77.86" fill="#dbeef5" stroke="#999" stroke-width="1.6"/>
<rect x="138.3" y="3042.7" width="321.4" height="77.86" fill="#e3f3f1" stroke="#999" stroke-width="1.6"/>
<rect x="459.8" y="3042.7" width="321.4" height="77.86" fill="#fc9660" stroke="#999" stroke-width="1.6"/>
<rect x="781.2" y="3042.7" width="321.4" height="77.86" fill="#fe9d64" stroke="#999" stroke-width="1.6"/>
<rect x="1102.6" y="3042.7" width="321.4" height="77.86" fill="#d3e8f2" stroke="#999" stroke-width="1.6"/>
<rect x="1424.1" y="3042.7" width="321.4" height="77.86" fill="#b0d3e6" stroke="#999" stroke-width="1.6"/>
<rect x="98.1" y="1563.3" width="35" height="77.86" fill="#FF83FF" stroke="#999" stroke-width="1.6"/>
<rect x="98.1" y="1641.2" width="35" height="77.86" fill="#00DAE0" stroke="#999" stroke-width="1.6"/>
<rect x="98.1" y="1719.0" width="35" height="77.86" fill="#D3BA00" stroke="#999" stroke-width="1.6"/>
<rect x="98.1" y="1796.9" width="35" height="77.86" fill="#FF83FF" stroke="#999" stroke-width="1.6"/>
<rect x="98.1" y="1874.8" width="35" height="77.86" fill="#FF9289" stroke="#999" stroke-width="1.6"/>
<rect x="98.1" y="1952.6" width="35" height="77.86" fill="#FF9289" stroke="#999" stroke-width="1.6"/>
<rect x="98.1" y="2030.5" width="35" height="77.86" fill="#FF9289" stroke="#999" stroke-width="1.6"/>
<rect x="98.1" y="2108.4" width="35" height="77.86" fill="#00D65C" stroke="#999" stroke-width="1.6"/>
<rect x="98.1" y="2186.2" width="35" height="77.86" fill="#D3BA00" stroke="#999" stroke-width="1.6"/>
<rect x="98.1" y="2264.1" width="35" height="77.86" fill="#D3BA00" stroke="#999" stroke-width="1.6"/>
<rect x="98.1" y="2341.9" width="35" height="77.86" fill="#FF9289" stroke="#999" stroke-width="1.6"/>
<rect x="98.1" y="2419.8" width="35" height="77.86" fill="#FF9289" stroke="#999" stroke-width="1.6"/>
<rect x="98.1" y="2497.7" width="35" height="77.86" fill="#D3BA00" stroke="#999" stroke-width="1.6"/>
<rect x="98.1" y="2575.5" width="35" height="77.86" fill="#FF9289" stroke="#999" stroke-width="1.6"/>
<rect x="98.1" y="2653.4" width="35" height="77.86" fill="#D3BA00" stroke="#999" stroke-width="1.6"/>
<rect x="98.1" y="2731.3" width="35" height="77.86" fill="#82B7FF" stroke="#999" stroke-width="1.6"/>
<rect x="98.1" y="2809.1" width="35" height="77.86" fill="#FF83FF" stroke="#999" stroke-width="1.6"/>
<rect x="98.1" y="2887.0" width="35" height="77.86" fill="#FF83FF" stroke="#999" stroke-width="1.6"/>
<rect x="98.1" y="2964.9" width="35" height="77.86" fill="#FF83FF" stroke="#999" stroke-width="1.6"/>
<rect x="98.1" y="3042.7" width="35" height="77.86" fill="#FF83FF" stroke="#999" stroke-width="1.6"/>
<text x="1751" y="1614.8" font-family="Liberation Sans, sans-serif" font-size="35">Odoribacter</text>
<text x="1751" y="1692.7" font-family="Liberation Sans, sans-serif" font-size="35">Mucispirillum</text>
<text x="1751" y="1770.6" font-family="Liberation Sans, sans-serif" font-size="35">Sphingomonas</text>
<text x="1751" y="1848.4" font-family="Liberation Sans, sans-serif" font-size="35">Alistipes</text>
<text x="1751" y="1926.3" font-family="Liberation Sans, sans-serif" font-size="35">Unidentified_Ruminococcaceae</text>
<text x="1751" y="2004.2" font-family="Liberation Sans, sans-serif" font-size="35">Lactobacillus</text>
<text x="1751" y="2082.0" font-family="Liberation Sans, sans-serif" font-size="35">Ruminiclostridium</text>
<text x="1751" y="2159.9" font-family="Liberation Sans, sans-serif" font-size="35">Akkermansia</text>
<text x="1751" y="2237.8" font-family="Liberation Sans, sans-serif" font-size="35">Chujaibacter</text>
<text x="1751" y="2315.6" font-family="Liberation Sans, sans-serif" font-size="35">Woeseia</text>
<text x="1751" y="2393.5" font-family="Liberation Sans, sans-serif" font-size="35">Lachnoclostridium</text>
<text x="1751" y="2471.3" font-family="Liberation Sans, sans-serif" font-size="35">Unidentified_Lachnospiraceae</text>
<text x="1751" y="2549.2" font-family="Liberation Sans, sans-serif" font-size="35">Unidentified_Gammaproteobacteria</text>
<text x="1751" y="2627.1" font-family="Liberation Sans, sans-serif" font-size="35">Oscillibacter</text>
<text x="1751" y="2704.9" font-family="Liberation Sans, sans-serif" font-size="35">Bilophila</text>
<text x="1751" y="2782.8" font-family="Liberation Sans, sans-serif" font-size="35">Unidentified_Oxyphotobacteria</text>
<text x="1751" y="2860.7" font-family="Liberation Sans, sans-serif" font-size="35">Alloprevotella</text>
<text x="1751" y="2938.5" font-family="Liberation Sans, sans-serif" font-size="35">Bacteroides</text>
<text x="1751" y="3016.4" font-family="Liberation Sans, sans-serif" font-size="35">Parabacteroides</text>
<text x="1751" y="3094.3" font-family="Liberation Sans, sans-serif" font-size="35">Muribaculum</text>
<path d="M5.5,1778V2586M5.5,1778H13.8M13.8,1660.4V1892.8M13.8,1660.4H62.6M62.6,1602.2324999999998V1720.3M62.6,1602.2324999999998H97M62.6,1720.3H81.5M81.5,1680.0974999999999V1757.9624999999999M81.5,1680.0974999999999H97M81.5,1757.9624999999999H97M13.8,1892.8H57.5M57.5,1835.8274999999999V1952.7M57.5,1835.8274999999999H97M57.5,1952.7H83.8M83.8,1913.6924999999999V1991.5575M83.8,1913.6924999999999H97M83.8,1991.5575H97M5.5,2586H12.7M12.7,2278V2897M12.7,2278H40.5M40.5,2109.3V2430M40.5,2109.3H75.7M75.7,2069.4224999999997V2147.2875M75.7,2069.4224999999997H97M75.7,2147.2875H97M40.5,2430H54.2M54.2,2294V2596M54.2,2294H76M76,2225.1525V2362.5M76,2225.1525H97M76,2362.5H86.1M86.1,2303.0175V2420.8M86.1,2303.0175H97M86.1,2420.8H89.7M89.7,2380.8824999999997V2458.7475M89.7,2380.8824999999997H97M89.7,2458.7475H97M54.2,2596H67M67,2536.6124999999997V2654M67,2536.6124999999997H97M67,2654H84.6M84.6,2614.4775V2692.3424999999997M84.6,2614.4775H97M84.6,2692.3424999999997H97M12.7,2897H28.9M28.9,2810V2985M28.9,2810H78.5M78.5,2770.2075V2848.0724999999998M78.5,2770.2075H97M78.5,2848.0724999999998H97M28.9,2985H52.2M52.2,2925.9375V3043M52.2,2925.9375H97M52.2,3043H76M76,3003.8025V3081.6674999999996M76,3003.8025H97M76,3081.6674999999996H97" fill="none" stroke="#000" stroke-width="1.5" stroke-linecap="square"/>
<rect x="95" y="2101" width="1878.5" height="85.2" fill="none" stroke="#000" stroke-width="8"/>
<text x="164.3" y="3168.3" font-family="Liberation Sans, sans-serif" font-size="47" textLength="253.0" lengthAdjust="spacingAndGlyphs">Normal mice</text>
<text x="582.0" y="3168.3" font-family="Liberation Sans, sans-serif" font-size="47" textLength="135.0" lengthAdjust="spacingAndGlyphs">DMSO</text>
<text x="896.7" y="3168.3" font-family="Liberation Sans, sans-serif" font-size="47" textLength="94.7" lengthAdjust="spacingAndGlyphs">DHA</text>
<text x="1156.0" y="3168.3" font-family="Liberation Sans, sans-serif" font-size="47" textLength="206.4" lengthAdjust="spacingAndGlyphs">Anti-PD-1</text>
<text x="1423.4" y="3168.3" font-family="Liberation Sans, sans-serif" font-size="47" textLength="324.6" lengthAdjust="spacingAndGlyphs">DHA+anti-PD-1</text>
<text transform="translate(130.5,3252.6) rotate(-90)" font-family="Liberation Sans, sans-serif" font-size="40" font-weight="bold" textLength="122" lengthAdjust="spacingAndGlyphs">Phylum</text>
<defs><linearGradient id="lg" x1="0" y1="1" x2="0" y2="0"><stop offset="0" stop-color="#4575b4"/><stop offset="0.1667" stop-color="#91bfdb"/><stop offset="0.3333" stop-color="#e0f3f8"/><stop offset="0.5" stop-color="#ffffbf"/><stop offset="0.6667" stop-color="#fee090"/><stop offset="0.8333" stop-color="#fc8d59"/><stop offset="1" stop-color="#d73027"/></linearGradient></defs>
<rect x="2307.5" y="1563.8" width="17.5" height="261.6" fill="url(#lg)"/>
<text x="2333" y="1596" font-family="Liberation Sans, sans-serif" font-size="33">1.5</text>
<text x="2333" y="1632.8" font-family="Liberation Sans, sans-serif" font-size="33">1</text>
<text x="2333" y="1670.6" font-family="Liberation Sans, sans-serif" font-size="33">0.5</text>
<text x="2333" y="1707.4" font-family="Liberation Sans, sans-serif" font-size="33">0</text>
<text x="2333" y="1744" font-family="Liberation Sans, sans-serif" font-size="33">−0.5</text>
<text x="2333" y="1781" font-family="Liberation Sans, sans-serif" font-size="33">−1</text>
<text x="2333" y="1817.7" font-family="Liberation Sans, sans-serif" font-size="33">−1.5</text>
<text x="2385.5" y="1907.7" font-family="Liberation Serif, serif" font-size="68">F</text>
<line x1="2495" y1="1967" x2="2495" y2="3075.5" stroke="#d0d4dc" stroke-width="2.5"/>
<line x1="2495" y1="3075.5" x2="3379" y2="3075.5" stroke="#d0d4dc" stroke-width="2.5"/>
<text x="2465" y="3091.0" font-family="Liberation Sans, sans-serif" font-size="40" fill="#333" text-anchor="end">0</text>
<text x="2465" y="2980.2" font-family="Liberation Sans, sans-serif" font-size="40" fill="#333" text-anchor="end">10</text>
<text x="2465" y="2869.3" font-family="Liberation Sans, sans-serif" font-size="40" fill="#333" text-anchor="end">20</text>
<text x="2465" y="2758.4" font-family="Liberation Sans, sans-serif" font-size="40" fill="#333" text-anchor="end">30</text>
<text x="2465" y="2647.6" font-family="Liberation Sans, sans-serif" font-size="40" fill="#333" text-anchor="end">40</text>
<text x="2465" y="2536.8" font-family="Liberation Sans, sans-serif" font-size="40" fill="#333" text-anchor="end">50</text>
<text x="2465" y="2425.9" font-family="Liberation Sans, sans-serif" font-size="40" fill="#333" text-anchor="end">60</text>
<text x="2465" y="2315.1" font-family="Liberation Sans, sans-serif" font-size="40" fill="#333" text-anchor="end">70</text>
<text x="2465" y="2204.2" font-family="Liberation Sans, sans-serif" font-size="40" fill="#333" text-anchor="end">80</text>
<text x="2465" y="2093.3" font-family="Liberation Sans, sans-serif" font-size="40" fill="#333" text-anchor="end">90</text>
<text x="2465" y="1982.5" font-family="Liberation Sans, sans-serif" font-size="40" fill="#333" text-anchor="end">100</text>
<text transform="translate(2385,2521) rotate(-90)" font-family="Liberation Sans, sans-serif" font-size="40" fill="#333" text-anchor="middle" style="white-space:pre">Relative  abundance</text>
<rect x="2554.3" y="3036.4" width="106.1" height="39.1" fill="#7b68ee"/>
<rect x="2554.3" y="3028" width="106.1" height="8.4" fill="#fa8072"/>
<rect x="2554.3" y="3015.4" width="106.1" height="12.6" fill="#ff00ff"/>
<rect x="2554.3" y="3004.6" width="106.1" height="10.8" fill="#ffff00"/>
<rect x="2554.3" y="2967.7" width="106.1" height="36.9" fill="#808000"/>
<rect x="2554.3" y="2929.5" width="106.1" height="38.2" fill="#7cfc00"/>
<rect x="2554.3" y="2919" width="106.1" height="10.5" fill="#1e90ff"/>
<rect x="2554.3" y="2898" width="106.1" height="21.0" fill="#f08080"/>
<rect x="2554.3" y="2883" width="106.1" height="15.0" fill="#98fb98"/>
<rect x="2554.3" y="2865" width="106.1" height="18.0" fill="#9370db"/>
<rect x="2554.3" y="1968" width="106.1" height="897.0" fill="#ffa500"/>
<line x1="2554.3" y1="3036.4" x2="2660.4" y2="3036.4" stroke="#fff" stroke-width="2"/>
<line x1="2554.3" y1="3028" x2="2660.4" y2="3028" stroke="#fff" stroke-width="2"/>
<line x1="2554.3" y1="3015.4" x2="2660.4" y2="3015.4" stroke="#fff" stroke-width="2"/>
<line x1="2554.3" y1="3004.6" x2="2660.4" y2="3004.6" stroke="#fff" stroke-width="2"/>
<line x1="2554.3" y1="2967.7" x2="2660.4" y2="2967.7" stroke="#fff" stroke-width="2"/>
<line x1="2554.3" y1="2929.5" x2="2660.4" y2="2929.5" stroke="#fff" stroke-width="2"/>
<line x1="2554.3" y1="2919" x2="2660.4" y2="2919" stroke="#fff" stroke-width="2"/>
<line x1="2554.3" y1="2898" x2="2660.4" y2="2898" stroke="#fff" stroke-width="2"/>
<line x1="2554.3" y1="2883" x2="2660.4" y2="2883" stroke="#fff" stroke-width="2"/>
<line x1="2554.3" y1="2865" x2="2660.4" y2="2865" stroke="#fff" stroke-width="2"/>
<rect x="2775.6" y="3027.8" width="106.1" height="47.7" fill="#7b68ee"/>
<rect x="2775.6" y="2999.9" width="106.1" height="27.9" fill="#fa8072"/>
<rect x="2775.6" y="2962" width="106.1" height="37.9" fill="#ff00ff"/>
<rect x="2775.6" y="2935.5" width="106.1" height="26.5" fill="#ffff00"/>
<rect x="2775.6" y="2907.6" width="106.1" height="27.9" fill="#808000"/>
<rect x="2775.6" y="2893" width="106.1" height="14.6" fill="#7cfc00"/>
<rect x="2775.6" y="2887.4" width="106.1" height="5.6" fill="#1e90ff"/>
<rect x="2775.6" y="2866" width="106.1" height="21.4" fill="#f08080"/>
<rect x="2775.6" y="2843.6" width="106.1" height="22.4" fill="#98fb98"/>
<rect x="2775.6" y="2831" width="106.1" height="12.6" fill="#9370db"/>
<rect x="2775.6" y="1968" width="106.1" height="863.0" fill="#ffa500"/>
<line x1="2775.6" y1="3027.8" x2="2881.7" y2="3027.8" stroke="#fff" stroke-width="2"/>
<line x1="2775.6" y1="2999.9" x2="2881.7" y2="2999.9" stroke="#fff" stroke-width="2"/>
<line x1="2775.6" y1="2962" x2="2881.7" y2="2962" stroke="#fff" stroke-width="2"/>
<line x1="2775.6" y1="2935.5" x2="2881.7" y2="2935.5" stroke="#fff" stroke-width="2"/>
<line x1="2775.6" y1="2907.6" x2="2881.7" y2="2907.6" stroke="#fff" stroke-width="2"/>
<line x1="2775.6" y1="2893" x2="2881.7" y2="2893" stroke="#fff" stroke-width="2"/>
<line x1="2775.6" y1="2887.4" x2="2881.7" y2="2887.4" stroke="#fff" stroke-width="2"/>
<line x1="2775.6" y1="2866" x2="2881.7" y2="2866" stroke="#fff" stroke-width="2"/>
<line x1="2775.6" y1="2843.6" x2="2881.7" y2="2843.6" stroke="#fff" stroke-width="2"/>
<line x1="2775.6" y1="2831" x2="2881.7" y2="2831" stroke="#fff" stroke-width="2"/>
<rect x="2995.3" y="3036" width="105.9" height="39.5" fill="#7b68ee"/>
<rect x="2995.3" y="3033.5" width="105.9" height="2.5" fill="#fa8072"/>
<rect x="2995.3" y="3014" width="105.9" height="19.5" fill="#ff00ff"/>
<rect x="2995.3" y="2997" width="105.9" height="17.0" fill="#ffff00"/>
<rect x="2995.3" y="2966" width="105.9" height="31.0" fill="#808000"/>
<rect x="2995.3" y="2939.8" width="105.9" height="26.2" fill="#7cfc00"/>
<rect x="2995.3" y="2914" width="105.9" height="25.8" fill="#1e90ff"/>
<rect x="2995.3" y="2903.7" width="105.9" height="10.3" fill="#f08080"/>
<rect x="2995.3" y="2884.8" width="105.9" height="18.9" fill="#98fb98"/>
<rect x="2995.3" y="2877.5" width="105.9" height="7.3" fill="#9370db"/>
<rect x="2995.3" y="1968" width="105.9" height="909.5" fill="#ffa500"/>
<line x1="2995.3" y1="3036" x2="3101.2" y2="3036" stroke="#fff" stroke-width="2"/>
<line x1="2995.3" y1="3033.5" x2="3101.2" y2="3033.5" stroke="#fff" stroke-width="2"/>
<line x1="2995.3" y1="3014" x2="3101.2" y2="3014" stroke="#fff" stroke-width="2"/>
<line x1="2995.3" y1="2997" x2="3101.2" y2="2997" stroke="#fff" stroke-width="2"/>
<line x1="2995.3" y1="2966" x2="3101.2" y2="2966" stroke="#fff" stroke-width="2"/>
<line x1="2995.3" y1="2939.8" x2="3101.2" y2="2939.8" stroke="#fff" stroke-width="2"/>
<line x1="2995.3" y1="2914" x2="3101.2" y2="2914" stroke="#fff" stroke-width="2"/>
<line x1="2995.3" y1="2903.7" x2="3101.2" y2="2903.7" stroke="#fff" stroke-width="2"/>
<line x1="2995.3" y1="2884.8" x2="3101.2" y2="2884.8" stroke="#fff" stroke-width="2"/>
<line x1="2995.3" y1="2877.5" x2="3101.2" y2="2877.5" stroke="#fff" stroke-width="2"/>
<rect x="3216.8" y="3053.6" width="105.9" height="21.9" fill="#7b68ee"/>
<rect x="3216.8" y="3014" width="105.9" height="39.6" fill="#fa8072"/>
<rect x="3216.8" y="2990" width="105.9" height="24.0" fill="#ff00ff"/>
<rect x="3216.8" y="2951" width="105.9" height="39.0" fill="#ffff00"/>
<rect x="3216.8" y="2928" width="105.9" height="23.0" fill="#808000"/>
<rect x="3216.8" y="2902" width="105.9" height="26.0" fill="#7cfc00"/>
<rect x="3216.8" y="2895" width="105.9" height="7.0" fill="#1e90ff"/>
<rect x="3216.8" y="2884.8" width="105.9" height="10.2" fill="#f08080"/>
<rect x="3216.8" y="2863" width="105.9" height="21.8" fill="#98fb98"/>
<rect x="3216.8" y="2857.3" width="105.9" height="5.7" fill="#9370db"/>
<rect x="3216.8" y="1968" width="105.9" height="889.3" fill="#ffa500"/>
<line x1="3216.8" y1="3053.6" x2="3322.7" y2="3053.6" stroke="#fff" stroke-width="2"/>
<line x1="3216.8" y1="3014" x2="3322.7" y2="3014" stroke="#fff" stroke-width="2"/>
<line x1="3216.8" y1="2990" x2="3322.7" y2="2990" stroke="#fff" stroke-width="2"/>
<line x1="3216.8" y1="2951" x2="3322.7" y2="2951" stroke="#fff" stroke-width="2"/>
<line x1="3216.8" y1="2928" x2="3322.7" y2="2928" stroke="#fff" stroke-width="2"/>
<line x1="3216.8" y1="2902" x2="3322.7" y2="2902" stroke="#fff" stroke-width="2"/>
<line x1="3216.8" y1="2895" x2="3322.7" y2="2895" stroke="#fff" stroke-width="2"/>
<line x1="3216.8" y1="2884.8" x2="3322.7" y2="2884.8" stroke="#fff" stroke-width="2"/>
<line x1="3216.8" y1="2863" x2="3322.7" y2="2863" stroke="#fff" stroke-width="2"/>
<line x1="3216.8" y1="2857.3" x2="3322.7" y2="2857.3" stroke="#fff" stroke-width="2"/>
<text x="2555" y="3120.4" font-family="Liberation Sans, sans-serif" font-size="41" textLength="119.6" lengthAdjust="spacingAndGlyphs">DMSO</text>
<text x="2784" y="3120.4" font-family="Liberation Sans, sans-serif" font-size="41" textLength="85.7" lengthAdjust="spacingAndGlyphs">DHA</text>
<text x="2948.5" y="3120.4" font-family="Liberation Sans, sans-serif" font-size="41" textLength="188.0" lengthAdjust="spacingAndGlyphs">Anti-PD-1</text>
<text x="3176" y="3120.4" font-family="Liberation Sans, sans-serif" font-size="41" textLength="297.0" lengthAdjust="spacingAndGlyphs">DHA+anti-PD-1</text>
<circle cx="3422.6" cy="2333.0" r="19.8" fill="#ffa500"/>
<text x="3453" y="2351.4" font-family="Liberation Sans, sans-serif" font-size="40" fill="#333">Others</text>
<circle cx="3422.6" cy="2376.9" r="19.8" fill="#9370db"/>
<text x="3453" y="2395.3" font-family="Liberation Sans, sans-serif" font-size="40" fill="#333">Parabacteroides</text>
<circle cx="3422.6" cy="2420.8" r="19.8" fill="#98fb98"/>
<text x="3453" y="2439.2" font-family="Liberation Sans, sans-serif" font-size="40" fill="#333">Unidentified_Ruminococcaceae</text>
<circle cx="3422.6" cy="2464.7" r="19.8" fill="#f08080"/>
<text x="3453" y="2483.1" font-family="Liberation Sans, sans-serif" font-size="40" fill="#333">Muribaculum</text>
<circle cx="3422.6" cy="2508.6" r="19.8" fill="#1e90ff"/>
<text x="3453" y="2527.0" font-family="Liberation Sans, sans-serif" font-size="40" fill="#333">Odoribacter</text>
<circle cx="3422.6" cy="2552.5" r="19.8" fill="#7cfc00"/>
<text x="3453" y="2570.9" font-family="Liberation Sans, sans-serif" font-size="40" fill="#333">Alloprevotella</text>
<circle cx="3422.6" cy="2596.4" r="19.8" fill="#808000"/>
<text x="3453" y="2614.8" font-family="Liberation Sans, sans-serif" font-size="40" fill="#333">Alistipes</text>
<circle cx="3422.6" cy="2640.3" r="19.8" fill="#ffff00"/>
<text x="3453" y="2658.7" font-family="Liberation Sans, sans-serif" font-size="40" fill="#333">Lactobacillus</text>
<circle cx="3422.6" cy="2684.2" r="19.8" fill="#ff00ff"/>
<text x="3453" y="2702.6" font-family="Liberation Sans, sans-serif" font-size="40" fill="#333">Unidentified_Lachnospiraceae</text>
<circle cx="3422.6" cy="2728.1" r="19.8" fill="#fa8072"/>
<text x="3453" y="2746.5" font-family="Liberation Sans, sans-serif" font-size="40" fill="#333">Akkermansia</text>
<circle cx="3422.6" cy="2772.0" r="19.8" fill="#7b68ee"/>
<text x="3453" y="2790.4" font-family="Liberation Sans, sans-serif" font-size="40" fill="#333">Bacteroides</text>
</svg></body></html>
